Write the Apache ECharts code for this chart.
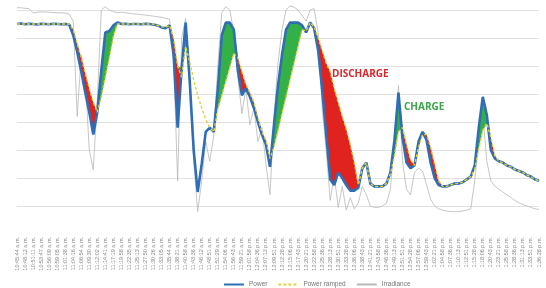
<!DOCTYPE html>
<html>
<head>
<meta charset="utf-8">
<script src="https://cdn.jsdelivr.net/npm/echarts@6/dist/echarts.min.js"></script>
<style>
  html, body { margin: 0; padding: 0; background: #fff; }
  #chart { width: 546px; height: 288px; }
</style>
</head>
<body>
<div id="chart"></div>
<script>
// time labels (every second sample carries a label)
const timeLabels = [
  '10:45:44 a.m.', '10:48:12 a.m.', '10:51:11 a.m.', '10:53:47 a.m.', '10:56:09 a.m.', '10:59:05 a.m.',
  '11:01:38 a.m.', '11:04:16 a.m.', '11:06:54 a.m.', '11:09:30 a.m.', '11:12:02 a.m.', '11:14:41 a.m.',
  '11:17:19 a.m.', '11:19:58 a.m.', '11:22:35 a.m.', '11:25:13 a.m.', '11:27:50 a.m.', '11:30:26 a.m.',
  '11:33:05 a.m.', '11:35:44 a.m.', '11:38:21 a.m.', '11:40:58 a.m.', '11:43:36 a.m.', '11:46:12 a.m.',
  '11:48:51 a.m.', '11:51:29 a.m.', '11:54:06 a.m.', '11:56:43 a.m.', '11:59:21 a.m.', '12:01:58 p.m.',
  '12:04:36 p.m.', '12:07:13 p.m.', '12:09:51 p.m.', '12:12:28 p.m.', '12:15:06 p.m.', '12:17:43 p.m.',
  '12:20:21 p.m.', '12:22:58 p.m.', '12:25:36 p.m.', '12:28:13 p.m.', '12:30:51 p.m.', '12:33:28 p.m.',
  '12:36:06 p.m.', '12:38:43 p.m.', '12:41:21 p.m.', '12:43:58 p.m.', '12:46:36 p.m.', '12:49:13 p.m.',
  '12:51:51 p.m.', '12:54:28 p.m.', '12:57:06 p.m.', '12:59:43 p.m.', '1:02:21 p.m.', '1:04:58 p.m.',
  '1:07:36 p.m.', '1:10:13 p.m.', '1:12:51 p.m.', '1:15:28 p.m.', '1:18:06 p.m.', '1:20:43 p.m.',
  '1:23:21 p.m.', '1:25:58 p.m.', '1:28:36 p.m.', '1:31:13 p.m.', '1:33:51 p.m.', '1:36:28 p.m.'
]

// power output (kW)
const power = [
  750, 752, 749, 751, 750, 748, 751, 750, 749, 751, 750, 749, 750, 748,
  710, 650, 580, 505, 435, 355, 435, 585, 720, 725, 745, 755,
  750, 751, 749, 750, 750, 749, 751, 750, 748, 745, 738, 735, 745,
  640, 380, 590, 755,
  550, 300, 150, 250, 365, 380, 365, 515, 710, 755, 755, 730,
  585, 495, 520, 490, 450, 400, 355, 320, 240,
  390, 530, 640, 730, 755, 755, 755, 745, 720, 755, 735,
  655, 515, 355, 195, 175, 220, 200, 175, 155, 155, 165,
  235, 255, 180, 170, 170, 170, 180,
  220, 335, 505, 345, 255, 235,
  245, 330, 365, 335, 255, 200, 175,
  170, 170, 175, 180, 180, 185, 195,
  205, 245, 380, 490, 425, 300, 270,
  260, 255, 245, 240, 230, 225, 220, 210, 205, 195, 190
]

// ramp-limited power (kW)
const powerRamped = [
  750, 750, 750, 750, 750, 750, 750, 750, 750, 750, 750, 750, 750, 750,
  730, 680, 630, 575, 520, 470, 435, 490, 560, 630, 705, 750,
  750, 750, 750, 750, 750, 750, 750, 750, 750, 745, 740, 738, 745,
  700, 600, 560, 670,
  615, 550, 495, 450, 410, 380, 365, 445, 495, 545, 595, 645,
  630, 580, 535, 505, 470, 415, 365, 335, 270,
  310, 370, 430, 490, 550, 610, 670, 730, 725, 755, 740,
  700, 655, 610, 580, 520, 470, 420, 375, 320, 255, 175,
  235, 255, 180, 170, 170, 170, 180,
  215, 280, 365, 380, 320, 265,
  245, 310, 355, 355, 310, 250, 190,
  170, 170, 175, 180, 180, 185, 195,
  205, 230, 305, 370, 395, 345, 280,
  260, 255, 245, 240, 230, 225, 220, 210, 205, 195, 190
]

// irradiance (scaled to the same axis)
const irradiance = [
  808, 808, 806, 805, 790, 792, 793, 793, 792, 791, 790, 790, 789, 786,
  760, 420, 640, 560, 300, 230, 480, 800, 812, 800, 795, 790,
  792, 790, 788, 786, 785, 783, 782, 780, 778, 776, 774, 770, 768,
  620, 190, 700, 770,
  520, 260, 80, 190, 330, 260, 350, 600, 790, 812, 800, 720,
  560, 430, 520, 390, 450, 330, 380, 250, 140,
  420, 610, 730, 800, 815, 810, 800, 780, 760, 800, 805,
  720, 450, 300, 120, 210, 95, 170, 85, 130, 90, 110,
  170, 140, 100, 95, 95, 100, 110,
  160, 340, 530, 260, 160, 140,
  220, 235, 225, 175, 125, 100, 90,
  85, 82, 80, 80, 80, 82, 85,
  90, 190, 330, 430, 260, 190, 170,
  160, 150, 140, 130, 120, 112, 105, 100, 95, 90, 88
]

// sample ranges where the battery fills are drawn
const dischargeSpans = [[13, 20], [38, 40], [54, 63], [74, 86], [95, 98], [102, 106], [117, 120]]
const chargeSpans = [[20, 25], [40, 42], [49, 54], [63, 72], [93, 95], [99, 101], [113, 117]]

const categories = []
timeLabels.forEach((t, i) => {
  categories.push(t)
  if (i < timeLabels.length - 1) categories.push(t + ' ')
})

const inSpans = (spans, i) => spans.some(([a, b]) => i >= a && i <= b)
const dischargeBand = power.map((p, i) =>
  inSpans(dischargeSpans, i) ? Math.max(0, powerRamped[i] - p) : 0)
const chargeBand = power.map((p, i) =>
  inSpans(chargeSpans, i) ? Math.max(0, p - powerRamped[i]) : 0)

const chart = echarts.init(document.getElementById('chart'))

const hidden = { opacity: 0, width: 0 }
const option = {
  animation: false,
  grid: { left: 17, right: 7, top: 10, bottom: 54 },
  legend: {
    data: ['Power', 'Power ramped', 'Irradiance'],
    left: 218,
    top: 276,
    itemWidth: 20,
    itemHeight: 6,
    itemGap: 10,
    itemStyle: { opacity: 0 },
    textStyle: { fontSize: 6.5, color: '#777' }
  },
  xAxis: {
    type: 'category',
    data: categories,
    boundaryGap: false,
    axisLine: { show: false },
    axisTick: { show: false },
    axisLabel: {
      interval: 1,
      rotate: 90,
      fontSize: 5.5,
      color: '#888',
      margin: 3
    }
  },
  yAxis: {
    type: 'value',
    min: 0,
    max: 800,
    interval: 100,
    axisLabel: { show: false },
    axisLine: { show: false },
    axisTick: { show: false },
    splitLine: { showMinLine: false, lineStyle: { color: '#e2e2e2', width: 1 } }
  },
  graphic: [
    {
      type: 'text', left: 332, top: 69,
      style: { text: 'DISCHARGE', fill: '#d9262b', font: 'bold 10px "Open Sans"' }
    },
    {
      type: 'text', left: 404, top: 102,
      style: { text: 'CHARGE', fill: '#3ba64a', font: 'bold 10px "Open Sans"' }
    }
  ],
  series: [
    {
      name: 'Irradiance', type: 'line', data: irradiance, symbol: 'none', clip: false,
      lineStyle: { color: '#b8b8b8', width: 0.8 }, itemStyle: { color: '#b8b8b8' }, z: 1
    },
    {
      name: 'dBase', type: 'line', stack: 'd', data: power, symbol: 'none',
      lineStyle: hidden, z: 2, silent: true
    },
    {
      name: 'Discharge', type: 'line', stack: 'd', data: dischargeBand, symbol: 'none',
      lineStyle: hidden, areaStyle: { color: '#e0231f', opacity: 1 }, z: 2
    },
    {
      name: 'cBase', type: 'line', stack: 'c', data: powerRamped, symbol: 'none',
      lineStyle: hidden, z: 2, silent: true
    },
    {
      name: 'Charge', type: 'line', stack: 'c', data: chargeBand, symbol: 'none',
      lineStyle: hidden, areaStyle: { color: '#34b049', opacity: 1 }, z: 2
    },
    {
      name: 'Power', type: 'line', data: power, symbol: 'none',
      lineStyle: { color: '#2f6eb5', width: 2.6 }, itemStyle: { color: '#4a7fa8' }, z: 3
    },
    {
      name: 'Power ramped', type: 'line', data: powerRamped, symbol: 'none',
      lineStyle: { color: '#e2cf3c', width: 1.4, type: [3, 2] }, itemStyle: { color: '#e2cf3c' }, z: 4
    }
  ]
}

chart.setOption(option)
</script>
</body>
</html>
